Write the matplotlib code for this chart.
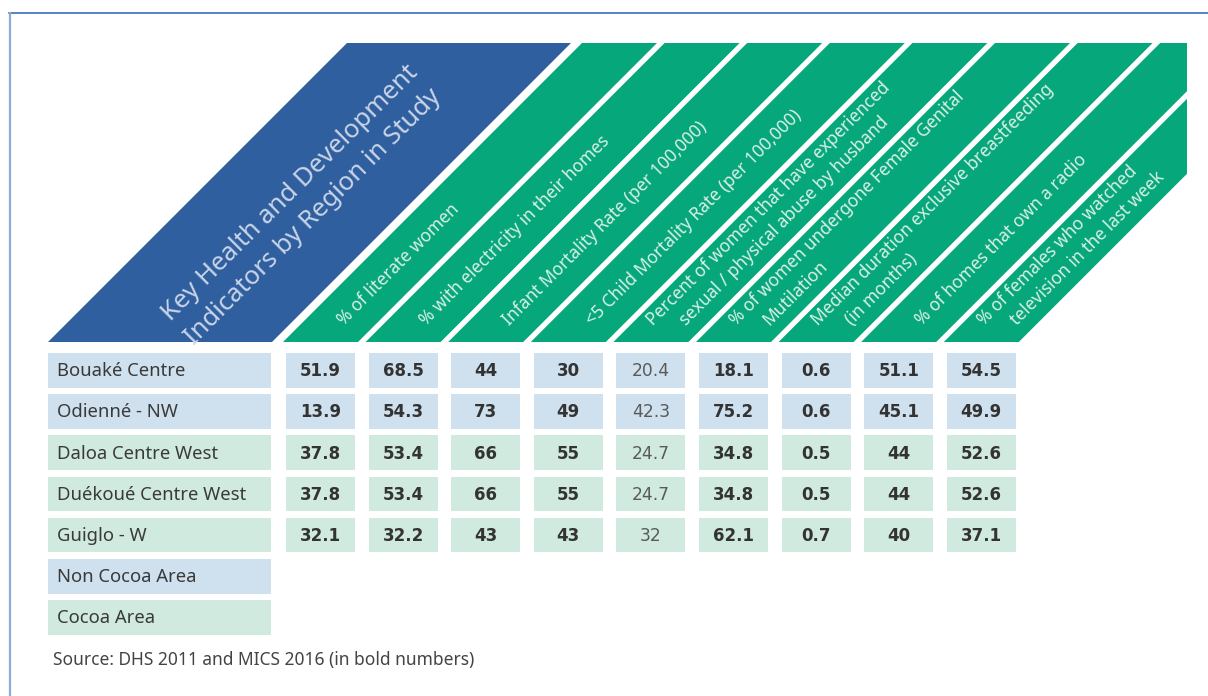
import matplotlib.pyplot as plt
from matplotlib.patches import Polygon, Rectangle

# Données du tableau
regions = ["Bouaké Centre", "Odienné - NW", "Daloa Centre West",
           "Duékoué Centre West", "Guiglo - W"]
region_area = ["Non Cocoa Area", "Non Cocoa Area", "Cocoa Area",
               "Cocoa Area", "Cocoa Area"]
legend_areas = ["Non Cocoa Area", "Cocoa Area"]

title = "Key Health and Development\nIndicators by Region in Study"
indicators = [
    ["% of literate women"],
    ["% with electricity in their homes"],
    ["Infant Mortality Rate (per 100,000)"],
    ["<5 Child Mortality Rate (per 100,000)"],
    ["Percent of women that have experienced", "sexual / physical abuse by husband"],
    ["% of women undergone Female Genital", "Mutilation"],
    ["Median duration exclusive breastfeeding", "(in months)"],
    ["% of homes that own a radio"],
    ["% of females who watched", "television in the last week"],
]

literate = [51.9, 13.9, 37.8, 37.8, 32.1]
electricity = [68.5, 54.3, 53.4, 53.4, 32.2]
infant_mort = [44, 73, 66, 66, 43]
child_mort = [30, 49, 55, 55, 43]
abuse = [20.4, 42.3, 24.7, 24.7, 32]
fgm = [18.1, 75.2, 34.8, 34.8, 62.1]
breastfeeding = [0.6, 0.6, 0.5, 0.5, 0.7]
radio = [51.1, 45.1, 44, 44, 40]
television = [54.5, 49.9, 52.6, 52.6, 37.1]

columns = [literate, electricity, infant_mort, child_mort, abuse,
           fgm, breastfeeding, radio, television]
# MICS 2016 en gras, DHS 2011 en normal
is_mics = [True, True, True, True, False, True, True, True, True]

source = "Source: DHS 2011 and MICS 2016 (in bold numbers)"

# Couleurs
blue = "#2f5f9f"
green = "#05a77b"
area_colors = {"Non Cocoa Area": "#cfe1ee", "Cocoa Area": "#d0eadf"}
txt = "#3a3a3a"

fig = plt.figure(figsize=(12.08, 6.96), dpi=100)
ax = fig.add_axes([0, 0, 1, 1])
ax.set_xlim(0, 1208)
ax.set_ylim(696, 0)
ax.axis("off")

# cadre
ax.plot([9, 1208], [12.5, 12.5], color="#3b6cbd", lw=1.2)
ax.plot([10, 10], [12.5, 696], color="#8eaad8", lw=1.6)

# géométrie
head_bot, head_top = 342, 43
h = head_bot - head_top
lab_x, lab_w = 48, 223
col_x0, col_step, col_w = 286, 82.6, 69
row_y0, row_step, row_h = 353, 41.2, 34.5
right_clip = 1187

# en-tête bleu
ax.add_patch(Polygon([(lab_x, head_bot), (lab_x + lab_w + 1, head_bot),
                      (lab_x + lab_w + 1 + h, head_top), (lab_x + h, head_top)],
                     closed=True, facecolor=blue, edgecolor="none"))
ax.text(302, 205, title, rotation=45, rotation_mode="anchor", ha="center",
        va="center", multialignment="center", fontsize=18.5,
        family="Noto Sans", color="#c9d4e7", linespacing=1.4)

clip = Rectangle((0, 0), right_clip, 696, transform=ax.transData)

# bandes vertes
for i, lines in enumerate(indicators):
    L = col_x0 + i * col_step - 3
    p = Polygon([(L, head_bot), (L + 75, head_bot), (L + 75 + h, head_top),
                 (L + h, head_top)], closed=True, facecolor=green,
                edgecolor="none")
    ax.add_patch(p)
    p.set_clip_path(clip)
    offs = [45] if len(lines) == 1 else [24, 57]
    y0 = 326
    for line, off in zip(lines, offs):
        ax.text(L + head_bot + off - y0, y0, line, rotation=45,
                rotation_mode="anchor", ha="left", va="baseline",
                fontsize=12.5, family="Noto Sans", color="#d9f0e6")

# lignes du tableau
for r, (name, area) in enumerate(zip(regions, region_area)):
    y = row_y0 + r * row_step
    col = area_colors[area]
    ax.add_patch(Rectangle((lab_x, y), lab_w, row_h, facecolor=col,
                           edgecolor="none"))
    ax.text(lab_x + 9, y + row_h / 2 + 1, name, ha="left", va="center",
            fontsize=13.3, family="Noto Sans", color=txt)
    for c, vals in enumerate(columns):
        x = col_x0 + c * col_step
        ax.add_patch(Rectangle((x, y), col_w, row_h, facecolor=col,
                               edgecolor="none"))
        ax.text(x + col_w / 2, y + row_h / 2 + 1, f"{vals[r]:g}",
                ha="center", va="center", family="DejaVu Sans",
                fontsize=12 if is_mics[c] else 12.3,
                fontweight="bold" if is_mics[c] else "normal",
                color="#333333" if is_mics[c] else "#5a5a5a")

# légende
for k, area in enumerate(legend_areas):
    y = row_y0 + (len(regions) + k) * row_step
    ax.add_patch(Rectangle((lab_x, y), lab_w, row_h,
                           facecolor=area_colors[area], edgecolor="none"))
    ax.text(lab_x + 9, y + row_h / 2 + 1, area, ha="left", va="center",
            fontsize=13.3, family="Noto Sans", color=txt)

ax.text(lab_x + 5, 660, source, ha="left", va="center", fontsize=12.5,
        family="Noto Sans", color="#444444")

fig.savefig("out.png", dpi=100)
